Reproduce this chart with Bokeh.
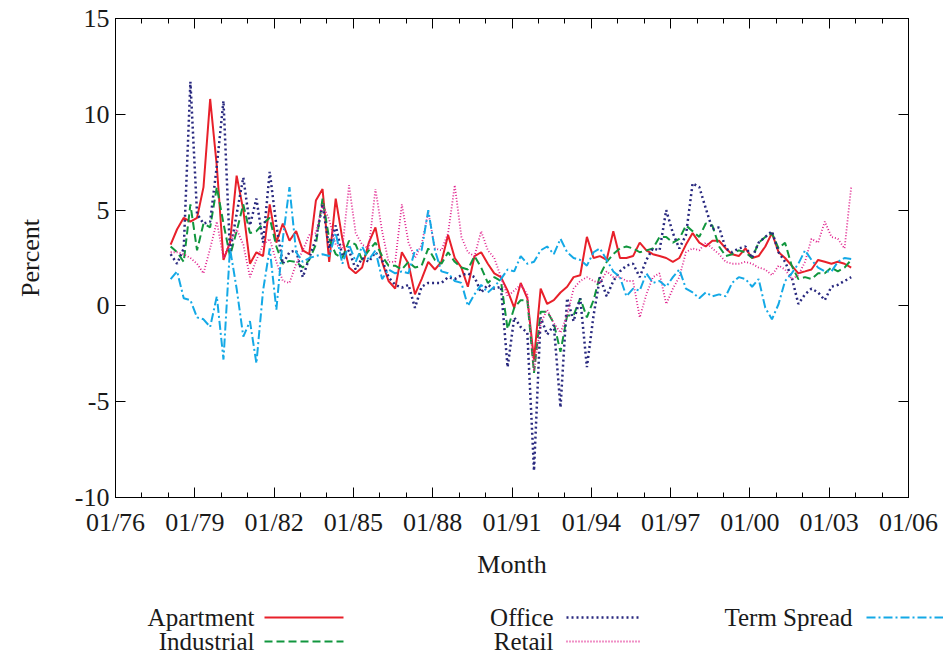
import pandas as pd
from datetime import datetime

from bokeh.plotting import figure
from bokeh.models import (Range1d, FixedTicker, DatetimeTickFormatter, DatetimeAxis,
                          LinearAxis, CustomJSTickFormatter, ColumnDataSource)
from bokeh.layouts import column
from bokeh.core.properties import value
from bokeh.embed import file_html
from bokeh.resources import INLINE

# Quarterly observations, 1978Q1 .. 2003Q4 (percent)
dates = pd.date_range("1978-02-01", periods=104, freq="3MS")

apartment = [3.2, 4.0, 4.6, 4.4, 4.6, 6.2, 10.8, 7.3, 2.4, 3.3,
             6.8, 5.0, 2.2, 2.8, 2.6, 5.3, 3.3, 4.3, 3.4, 3.9,
             2.9, 2.7, 5.5, 6.1, 2.3, 5.6, 3.5, 2.0, 1.7, 2.0,
             3.3, 4.1, 2.3, 1.3, 0.9, 2.8, 2.2, 0.6, 1.4, 2.3,
             1.9, 2.3, 3.7, 2.5, 2.0, 1.0, 2.6, 2.8, 2.2, 1.7,
             1.5, 0.8, -0.1, 1.2, 0.4, -2.8, 0.9, 0.1, 0.3, 0.7,
             1.0, 1.5, 1.6, 3.6, 2.5, 2.6, 2.4, 3.9, 2.5, 2.5,
             2.6, 3.3, 2.9, 2.7, 2.6, 2.5, 2.3, 2.5, 3.2, 3.8,
             3.3, 3.1, 3.4, 3.4, 3.0, 2.7, 2.6, 3.0, 2.5, 2.6,
             3.1, 3.8, 2.8, 2.5, 2.1, 1.7, 1.8, 1.9, 2.4, 2.3,
             2.2, 2.3, 2.2, 2.0]

industrial = [3.1, 2.8, 2.3, 5.3, 2.9, 4.3, 4.1, 6.2, 4.3, 2.6,
              3.9, 5.3, 3.8, 3.9, 4.3, 4.6, 3.1, 2.2, 2.35, 2.3,
              2.0, 2.4, 3.2, 5.6, 3.5, 2.7, 2.5, 3.4, 3.2, 2.4,
              2.9, 3.3, 2.6, 2.1, 2.1, 1.9, 2.3, 2.0, 2.1, 3.0,
              2.4, 2.2, 2.8, 2.3, 2.0, 1.9, 2.6, 2.0, 1.2, 1.5,
              1.3, -1.2, -0.1, 0.3, 0.3, -3.5, -0.3, -0.3, -0.9, -2.4,
              -0.5, -0.5, 0.4, -0.6, 0.3, 1.6, 2.3, 2.7, 3.0, 3.1,
              3.0, 2.8, 2.9, 3.0, 3.6, 3.6, 3.3, 3.5, 4.2, 3.9,
              3.6, 4.3, 4.2, 3.1, 2.6, 2.7, 2.9, 2.8, 2.5, 3.3,
              3.6, 3.8, 3.0, 3.3, 2.1, 1.4, 1.5, 1.4, 1.7, 1.7,
              2.0, 1.8, 2.0, 2.4]

office = [2.7, 2.2, 3.0, 11.7, 4.8, 4.3, 4.4, 7.3, 10.7, 2.8,
          4.8, 6.7, 4.2, 5.6, 3.3, 7.0, 4.2, 2.2, 2.8, 2.9,
          1.5, 2.5, 3.5, 5.3, 3.0, 4.2, 2.6, 2.9, 1.9, 2.5,
          2.3, 2.8, 2.4, 1.5, 1.1, 0.95, 1.1, -0.1, 1.0, 1.2,
          1.2, 1.2, 1.5, 1.4, 1.6, 1.7, 1.5, 0.7, 1.1, 0.9,
          1.0, -3.2, -0.6, -1.1, -1.4, -8.6, -0.6, -1.5, -1.0, -5.3,
          0.4, -0.8, 0.4, -3.2, -0.5, 1.5, 0.5, 1.3, 1.8, 2.1,
          2.2, 1.5, 2.4, 3.0, 2.9, 5.0, 3.8, 3.0, 3.7, 6.4,
          6.2, 5.1, 4.0, 4.1, 3.0, 2.8, 3.0, 3.1, 2.5, 3.3,
          3.6, 3.9, 2.8, 2.3, 1.5, 0.1, 0.6, 0.9, 0.7, 0.3,
          1.0, 1.1, 1.3, 1.5]

retail = [2.8, 2.8, 2.7, 2.5, 2.2, 1.7, 3.0, 4.4, 2.5, 3.3,
          4.0, 3.2, 1.5, 2.4, 3.2, 3.5, 2.3, 1.3, 1.2, 2.2,
          2.9, 3.7, 3.8, 5.3, 4.5, 3.2, 3.0, 6.3, 3.8, 3.2,
          3.0, 6.1, 3.9, 2.3, 2.3, 5.3, 3.3, 2.5, 3.2, 4.9,
          3.0, 2.9, 3.8, 6.3, 3.6, 2.8, 2.6, 3.9, 2.9, 2.5,
          1.5, 0.5, 0.8, 1.1, 0.6, -3.4, -0.9, -0.2, -0.9, -1.4,
          -0.5, 0.9, 1.3, 1.5, 1.3, 1.2, 1.8, 1.5, 1.5, 1.3,
          1.3, -0.6, 0.6, 1.5, 1.7, 0.1, 0.9, 1.5, 2.8, 3.0,
          2.9, 3.3, 3.0, 2.7, 2.3, 2.2, 2.2, 2.3, 2.2, 2.0,
          1.9, 1.6, 2.1, 1.9, 1.4, 1.6, 2.3, 3.5, 3.3, 4.4,
          3.6, 3.5, 3.0, 6.2]

term_spread = [1.4, 1.8, 0.4, 0.3, -0.6, -0.7, -1.1, 0.5, -2.8, 3.0,
               0.9, -1.6, -0.8, -3.0, 0.8, 3.0, -0.2, 3.5, 6.2, 2.8,
               2.3, 2.5, 2.6, 2.7, 2.6, 3.8, 2.2, 3.2, 2.3, 3.1,
               2.4, 2.9, 1.4, 1.9, 1.7, 1.8, 1.7, 2.9, 2.9, 5.0,
               2.9, 1.8, 1.7, 1.3, 1.2, 0.0, 0.6, 1.1, 0.7, 1.0,
               1.4, 1.9, 1.8, 2.6, 2.2, 2.3, 2.9, 3.1, 2.7, 3.5,
               2.8, 2.5, 2.4, 2.1, 2.8, 3.0, 2.4, 1.8, 1.5, 0.5,
               0.9, 0.8, 1.7, 1.2, 1.3, 1.0, 1.5, 1.9, 0.9, 0.7,
               0.4, 0.7, 0.5, 0.6, 0.5, 1.2, 1.5, 1.4, 1.0, 1.4,
               -0.1, -0.7, 0.1, 1.3, 1.7, 2.2, 2.9, 2.4, 2.0, 1.8,
               1.8, 2.3, 2.5, 2.45]

tick_years = list(range(1976, 2007, 3))
minor_years = list(range(1976, 2007))
y_ticks = [-10, -5, 0, 5, 10, 15]

series_names = ["Apartment", "Industrial", "Office", "Retail", "Term Spread"]
series_cols = ["apartment", "industrial", "office", "retail", "term_spread"]

FONT = "Liberation Serif"
TEXT = "#1a1a1a"

# line styles per series
styles = {
    "apartment":   dict(line_color="#e8202a", line_width=2.0, line_dash="solid"),
    "industrial":  dict(line_color="#11963e", line_width=2.0, line_dash="8 4"),
    "office":      dict(line_color="#29297f", line_width=2.5, line_dash="2 3"),
    "retail":      dict(line_color="#e0208c", line_width=1.8, line_dash="1 2"),
    "term_spread": dict(line_color="#14a9e6", line_width=2.0, line_dash="9 3 2 3"),
}

source = ColumnDataSource(dict(date=dates, apartment=apartment, industrial=industrial,
                               office=office, retail=retail, term_spread=term_spread))


def ms(year):
    return pd.Timestamp(year=year, month=1, day=1).value / 1e6


x_ticker = FixedTicker(ticks=[ms(y) for y in tick_years],
                       minor_ticks=[ms(y) for y in minor_years])
y_ticker = FixedTicker(ticks=y_ticks, minor_ticks=[])

p = figure(width=943, height=590, x_axis_type="datetime",
           x_range=Range1d(datetime(1976, 1, 1), datetime(2006, 1, 1)),
           y_range=Range1d(-10, 15),
           output_backend="svg", toolbar_location=None,
           min_border_left=115, min_border_right=35,
           min_border_top=18, min_border_bottom=93,
           background_fill_color="white", border_fill_color="white")
p.frame_align = False
p.xgrid.visible = False
p.ygrid.visible = False
p.outline_line_color = "black"
p.outline_line_width = 1

fmt = "%m/%y"
xfmt = DatetimeTickFormatter(years=fmt, months=fmt, days=fmt, hours=fmt,
                             minutes=fmt, seconds=fmt, milliseconds=fmt,
                             microseconds=fmt, hourmin=fmt, minsec=fmt)

xa = p.xaxis[0]
xa.ticker = x_ticker
xa.formatter = xfmt
xa.axis_label = "Month"
ya = p.yaxis[0]
ya.ticker = y_ticker
ya.formatter = CustomJSTickFormatter(code="return String(tick)")
ya.axis_label = "Percent"

for ax in (xa, ya):
    ax.axis_line_color = "black"
    ax.major_tick_line_color = "black"
    ax.minor_tick_line_color = "black"
    ax.major_tick_in = 10
    ax.major_tick_out = 0
    ax.minor_tick_in = 5
    ax.minor_tick_out = 0
    ax.major_label_text_font = FONT
    ax.major_label_text_font_size = "26px"
    ax.major_label_text_color = TEXT
    ax.axis_label_text_font = FONT
    ax.axis_label_text_font_size = "26px"
    ax.axis_label_text_font_style = "normal"
    ax.axis_label_text_color = TEXT

xa.major_label_standoff = 10
xa.axis_label_standoff = 10
ya.major_label_standoff = 6
ya.axis_label_standoff = 27

# mirrored tick marks on the top and right edges
blank = CustomJSTickFormatter(code="return ''")
top = DatetimeAxis(ticker=x_ticker, formatter=blank)
right = LinearAxis(ticker=y_ticker, formatter=blank)
for ax in (top, right):
    ax.axis_line_color = "black"
    ax.major_tick_line_color = "black"
    ax.minor_tick_line_color = "black"
    ax.major_tick_in = 10
    ax.major_tick_out = 0
    ax.minor_tick_in = 5
    ax.minor_tick_out = 0
    ax.major_label_text_font_size = "1px"
    ax.major_label_standoff = 0
p.add_layout(top, "above")
p.add_layout(right, "right")

for col in series_cols:
    p.line(x="date", y=col, source=source, **styles[col])

# key below the plot: text first, then a line sample
lg = figure(width=943, height=67, x_range=Range1d(0, 943), y_range=Range1d(67, 0),
            output_backend="svg", toolbar_location=None, min_border=0,
            x_axis_type=None, y_axis_type=None,
            background_fill_color="white", border_fill_color="white")
lg.frame_align = False
lg.outline_line_color = None

key_text_x = [254, 254, 553, 553, 852]
key_y = [27, 51, 27, 51, 27]
key_line_x = [(264, 343), (264, 343), (566, 640), (566, 640), (866, 943)]

lg.text(x=key_text_x, y=key_y, text=series_names, text_align="right",
        text_baseline="middle", text_font=value(FONT), text_font_size="25px",
        text_color=TEXT)
for col, (x0, x1), y in zip(series_cols, key_line_x, key_y):
    lg.line(x=[x0, x1], y=[y, y], **styles[col])

layout = column(p, lg, spacing=0)

with open("out.html", "w") as f:
    f.write(file_html(layout, INLINE))
